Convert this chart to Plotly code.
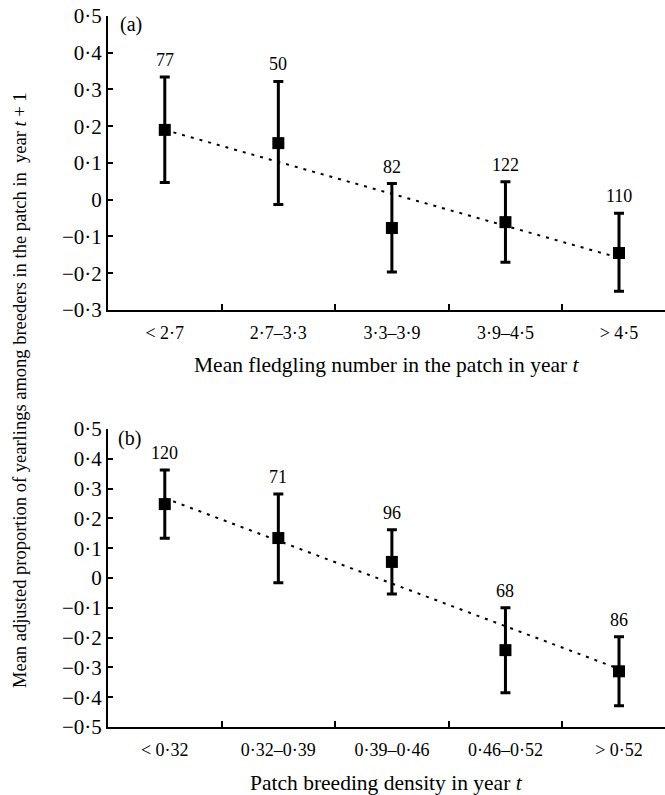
import plotly.graph_objects as go

# ---------------- data ----------------
cats_a = ["< 2·7", "2·7–3·3", "3·3–3·9", "3·9–4·5", "> 4·5"]
mean_a = [0.19, 0.154, -0.077, -0.061, -0.145]
upper_a = [0.334, 0.322, 0.044, 0.049, -0.037]
lower_a = [0.047, -0.013, -0.197, -0.170, -0.249]
n_a = ["77", "50", "82", "122", "110"]
trend_a = [0.19, -0.158]  # fitted values at first and last category

cats_b = ["< 0·32", "0·32–0·39", "0·39–0·46", "0·46–0·52", "> 0·52"]
mean_b = [0.248, 0.134, 0.054, -0.242, -0.313]
upper_b = [0.362, 0.282, 0.162, -0.100, -0.197]
lower_b = [0.133, -0.016, -0.054, -0.385, -0.429]
n_b = ["120", "71", "96", "68", "86"]
trend_b = [0.268, -0.305]

yticks_a = [0.5, 0.4, 0.3, 0.2, 0.1, 0, -0.1, -0.2, -0.3]
yticks_b = [0.5, 0.4, 0.3, 0.2, 0.1, 0, -0.1, -0.2, -0.3, -0.4, -0.5]

xtitle_a = "Mean fledgling number in the patch in year <i>t</i>"
xtitle_b = "Patch breeding density in year <i>t</i>"
ytitle = "Mean adjusted proportion of yearlings among breeders in the patch in  year <i>t</i> + 1"


def fmt(v):
    if v == 0:
        return "0"
    s = f"{abs(v):.1f}".replace(".", "·")
    return ("−" + s) if v < 0 else s


FONT = "Liberation Serif, Times New Roman, serif"
fig = go.Figure()

panels = [
    (cats_a, mean_a, upper_a, lower_a, n_a, trend_a, "x", "y"),
    (cats_b, mean_b, upper_b, lower_b, n_b, trend_b, "x2", "y2"),
]
for cats, mean, up, lo, ns, trend, xa, ya in panels:
    xs = list(range(len(cats)))
    fig.add_trace(go.Scatter(
        x=[xs[0], xs[-1]], y=trend, mode="lines",
        line=dict(color="black", width=2, dash="3px,6px"),
        xaxis=xa, yaxis=ya, showlegend=False, hoverinfo="skip"))
    fig.add_trace(go.Scatter(
        x=xs, y=mean, mode="markers",
        marker=dict(symbol="square", size=12, color="black"),
        error_y=dict(type="data", symmetric=False,
                     array=[u - m for u, m in zip(up, mean)],
                     arrayminus=[m - l for m, l in zip(mean, lo)],
                     color="black", thickness=3, width=5),
        xaxis=xa, yaxis=ya, showlegend=False))
    for x, u, n in zip(xs, up, ns):
        fig.add_annotation(x=x, y=u, xref=xa, yref=ya, text=n, showarrow=False,
                           yanchor="middle", yshift=17,
                           font=dict(family=FONT, size=18, color="black"))

xrange_ = [-0.5, 4.405]
common_x = dict(range=xrange_, showline=True, linecolor="black", linewidth=2,
                showgrid=False, zeroline=False, tickmode="array", automargin=False,
                tickvals=[0, 1, 2, 3, 4], ticks="", fixedrange=True,
                ticklabelstandoff=5,
                tickfont=dict(family=FONT, size=18, color="black"),
                minor=dict(tickmode="array", tickvals=[0.5, 1.5, 2.5, 3.5],
                           ticks="inside", ticklen=6, tickwidth=1.5,
                           tickcolor="black"))
common_y = dict(showline=True, linecolor="black", linewidth=2, showgrid=False,
                zeroline=False, ticks="inside", ticklen=5, tickwidth=1.5,
                automargin=False, fixedrange=True,
                tickcolor="black", tickmode="array",
                tickfont=dict(family=FONT, size=21, color="black"))

fig.update_layout(
    width=665, height=795,
    margin=dict(l=108, r=0, t=0, b=0, autoexpand=False),
    paper_bgcolor="white", plot_bgcolor="white",
    xaxis=dict(common_x, domain=[0, 1], anchor="y", ticktext=cats_a),
    yaxis=dict(common_y, domain=[0.6101, 0.9799], anchor="x", range=[-0.3, 0.5],
               tickvals=yticks_a, ticktext=[fmt(v) for v in yticks_a]),
    xaxis2=dict(common_x, domain=[0, 1], anchor="y2", ticktext=cats_b),
    yaxis2=dict(common_y, domain=[0.0855, 0.4604], anchor="x2", range=[-0.5, 0.5],
                tickvals=yticks_b, ticktext=[fmt(v) for v in yticks_b]),
)

# panel letters
fig.add_annotation(x=-0.5, y=0.5, xref="x", yref="y", text="(a)", showarrow=False,
                   xanchor="left", yanchor="middle", xshift=10, yshift=-9,
                   font=dict(family=FONT, size=20, color="black"))
fig.add_annotation(x=-0.5, y=0.5, xref="x2", yref="y2", text="(b)", showarrow=False,
                   xanchor="left", yanchor="middle", xshift=8, yshift=-10,
                   font=dict(family=FONT, size=20, color="black"))

# axis titles
fig.add_annotation(x=0.5, y=1 - 365 / 795, xref="paper", yref="paper", text=xtitle_a,
                   showarrow=False, xanchor="center", yanchor="middle",
                   font=dict(family=FONT, size=21.5, color="black"))
fig.add_annotation(x=0.5, y=1 - 783 / 795, xref="paper", yref="paper", text=xtitle_b,
                   showarrow=False, xanchor="center", yanchor="middle",
                   font=dict(family=FONT, size=21.5, color="black"))
fig.add_annotation(x=0, y=1 - 390 / 795, xref="paper", yref="paper", text=ytitle,
                   showarrow=False, textangle=-90, xanchor="center", yanchor="middle",
                   xshift=-88, font=dict(family=FONT, size=18.5, color="black"))

fig.write_html("out.html")
